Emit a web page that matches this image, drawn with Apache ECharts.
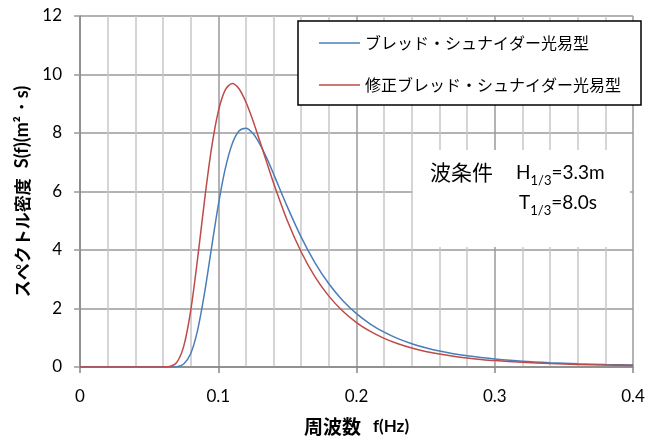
<!DOCTYPE html>
<html><head><meta charset="utf-8">
<script src="https://cdn.jsdelivr.net/npm/echarts@6/dist/echarts.min.js"></script>
<style>html,body{margin:0;padding:0;background:#fff}#c{width:646px;height:440px}</style>
</head><body><div id="c"></div>
<script>
const freq = [0,0.02,0.04,0.06,0.065,0.07,0.075,0.08,0.085,0.09,0.095,0.1,0.105,0.11,0.115,0.12,0.125,0.13,0.135,0.14,0.15,0.16,0.17,0.18,0.19,0.2,0.21,0.22,0.23,0.24,0.25,0.26,0.27,0.28,0.29,0.3,0.32,0.34,0.36,0.38,0.4];
const bretschneider = [0,0,0,0,0.0005,0.012,0.102,0.450,1.246,2.505,4.030,5.527,6.765,7.618,8.067,8.166,7.994,7.630,7.148,6.602,5.476,4.440,3.561,2.846,2.275,1.825,1.470,1.191,0.970,0.796,0.656,0.544,0.454,0.381,0.322,0.273,0.199,0.148,0.111,0.085,0.066];
const modified = [0,0,0,0.0005,0.017,0.158,0.705,1.903,3.680,5.664,7.439,8.733,9.468,9.690,9.512,9.058,8.436,7.732,7.004,6.292,4.999,3.931,3.083,2.423,1.913,1.519,1.215,0.978,0.793,0.648,0.533,0.441,0.367,0.307,0.259,0.219,0.160,0.118,0.089,0.068,0.053];
const seriesNames = ['ブレッド・シュナイダー光易型','修正ブレッド・シュナイダー光易型'];
const xName = '周波数';
const xUnit = 'f(Hz)';
const yName = 'スペクトル密度';
const yUnit = 'S(f)(m²・s)';

const jp = '"Noto Sans CJK JP", sans-serif';
const num = 'Lato, "Noto Sans", sans-serif';
const chart = echarts.init(document.getElementById('c'), null, {renderer:'canvas'});
chart.setOption({
  animation:false,
  backgroundColor:'#fff',
  grid:{left:80,right:13,top:16,bottom:73,containLabel:false,outerBoundsMode:'none'},
  xAxis:{
    type:'value',min:0,max:0.4,interval:0.1,
    name:'{a|'+xName+'}{b|'+xUnit+'}',nameLocation:'middle',nameGap:50,
    nameTextStyle:{fontSize:17,rich:{a:{fontFamily:jp,fontSize:19,fontWeight:'bold',color:'#000',padding:[0,12,0,0]},b:{fontFamily:num,fontSize:17,fontWeight:'bold',color:'#000'}}},
    axisLine:{lineStyle:{color:'#868686',width:1.5}},
    axisTick:{show:true,length:6,lineStyle:{color:'#868686',width:1.5}},
    axisLabel:{fontFamily:num,fontSize:17,color:'#000',margin:21,formatter:v=>String(+v.toFixed(1))},
    splitLine:{show:true,lineStyle:{color:'#9a9a9a',width:1.5}},
    minorTick:{show:false,splitNumber:5},
    minorSplitLine:{show:true,lineStyle:{color:'#c8c8c8',width:1.5}}
  },
  yAxis:{
    type:'value',min:0,max:12,interval:2,
    name:'{a|'+yName+'}{b|'+yUnit+'}',nameLocation:'middle',nameGap:48,
    nameTextStyle:{fontSize:18,rich:{a:{fontFamily:jp,fontSize:17,fontWeight:'bold',color:'#000',padding:[0,10,0,0]},b:{fontFamily:num,fontSize:18,fontWeight:'bold',color:'#000'}}},
    axisLine:{show:true,lineStyle:{color:'#868686',width:1.5}},
    axisTick:{show:true,length:6,lineStyle:{color:'#9a9a9a',width:1.5}},
    axisLabel:{fontFamily:num,fontSize:17,color:'#000',margin:18},
    splitLine:{show:true,lineStyle:{color:'#9a9a9a',width:1.5}}
  },
  legend:{
    orient:'vertical',left:298,top:21,
    padding:[12,20,10,21],itemGap:22,itemWidth:41,itemHeight:1.5,icon:'rect',
    borderColor:'#000',borderWidth:1.5,backgroundColor:'#fff',borderRadius:0,
    textStyle:{fontFamily:jp,fontSize:16,color:'#000',lineHeight:20},
    data:seriesNames
  },
  graphic:[
    {type:'rect',left:413,top:150,shape:{width:217,height:97},style:{fill:'#fff'},z:10},
    {type:'text',left:430,top:162,style:{text:'波条件',fontFamily:jp,fontSize:21,fill:'#000'},z:11},
    {type:'text',left:516,top:163,style:{text:'{n|H}{s|1/3}{n|=3.3m}',rich:{n:{fontFamily:num,fontSize:19,fill:'#000',lineHeight:24},s:{fontFamily:num,fontSize:13,fill:'#000',verticalAlign:'bottom',lineHeight:30}}},z:11},
    {type:'text',left:519,top:193,style:{text:'{n|T}{s|1/3}{n|=8.0s}',rich:{n:{fontFamily:num,fontSize:19,fill:'#000',lineHeight:24},s:{fontFamily:num,fontSize:13,fill:'#000',verticalAlign:'bottom',lineHeight:30}}},z:11}
  ],
  series:[
    {name:seriesNames[0],type:'line',data:freq.map((f,i)=>[f,bretschneider[i]]),symbol:'none',smooth:0.3,lineStyle:{color:'#4a7ebb',width:1.5},itemStyle:{color:'#4a7ebb'},z:3},
    {name:seriesNames[1],type:'line',data:freq.map((f,i)=>[f,modified[i]]),symbol:'none',smooth:0.3,lineStyle:{color:'#be4b48',width:1.5},itemStyle:{color:'#be4b48'},z:3}
  ]
});
</script></body></html>
